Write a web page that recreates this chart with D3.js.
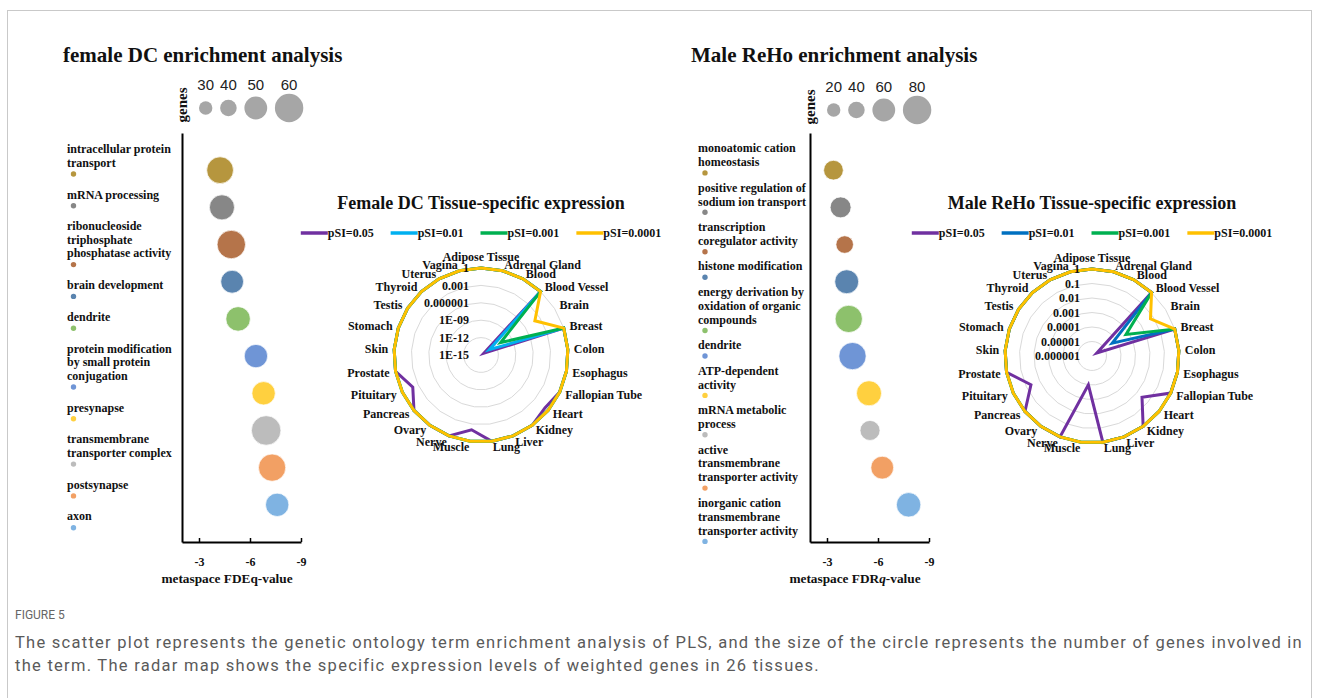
<!DOCTYPE html>
<html>
<head>
<meta charset="utf-8">
<script src="https://cdn.jsdelivr.net/npm/d3@7"></script>
<style>
  body { margin: 0; background: #fff; }
  svg { display: block; }
  .serif { font-family: "Liberation Serif", "Times New Roman", serif; font-weight: bold; fill: #111; }
  .sans { font-family: "Liberation Sans", Arial, sans-serif; fill: #222; }
</style>
</head>
<body>
<div id="chart"></div>
<script>
/* ---------- data ---------- */
var femaleTerms = [
  ["intracellular protein", "transport"],
  ["mRNA processing"],
  ["ribonucleoside", "triphosphate", "phosphatase activity"],
  ["brain development"],
  ["dendrite"],
  ["protein modification", "by small protein", "conjugation"],
  ["presynapse"],
  ["transmembrane", "transporter complex"],
  ["postsynapse"],
  ["axon"]
];
var femaleFdr = [-4.24, -4.35, -4.9, -4.95, -5.3, -6.35, -6.8, -6.95, -7.3, -7.6];
var femaleGenes = [57, 54, 60, 50, 53, 51, 51, 62, 58, 51];
var femaleLegendGenes = [30, 40, 50, 60];

var maleTerms = [
  ["monoatomic cation", "homeostasis"],
  ["positive regulation of", "sodium ion transport"],
  ["transcription", "coregulator activity"],
  ["histone modification"],
  ["energy derivation by", "oxidation of organic", "compounds"],
  ["dendrite"],
  ["ATP-dependent", "activity"],
  ["mRNA metabolic", "process"],
  ["active", "transmembrane", "transporter activity"],
  ["inorganic cation", "transmembrane", "transporter activity"]
];
var maleFdr = [-3.38, -3.8, -4.04, -4.16, -4.28, -4.5, -5.47, -5.53, -6.25, -7.8];
var maleGenes = [50, 54, 43, 64, 76, 76, 68, 51, 60, 66];
var maleLegendGenes = [20, 40, 60, 80];

var fdrTicks = [-3, -6, -9];

var tissues = ["Adipose Tissue", "Adrenal Gland", "Blood", "Blood Vessel", "Brain", "Breast",
  "Colon", "Esophagus", "Fallopian Tube", "Heart", "Kidney", "Liver", "Lung", "Muscle",
  "Nerve", "Ovary", "Pancreas", "Pituitary", "Prostate", "Skin", "Stomach", "Testis",
  "Thyroid", "Uterus", "Vagina"];

var pSILabels = ["pSI=0.05", "pSI=0.01", "pSI=0.001", "pSI=0.0001"];

var femaleRings = [1e-15, 1e-12, 1e-9, 1e-6, 1e-3, 1];
var femaleRingLabels = ["1E-15", "1E-12", "1E-09", "0.000001", "0.001", "1"];
var femaleP05   = [1, 1, 1, 1, 4e-15, 1, 1, 1, 1, 0.2, 1, 1, 1, 0.01, 1, 1, 1, 0.01, 1, 1, 1, 1, 1, 1, 1];
var femaleP01   = [1, 1, 1, 1, 5e-14, 1, 1, 1, 1, 1, 1, 1, 1, 1, 1, 1, 1, 1, 1, 1, 1, 1, 1, 1, 1];
var femaleP001  = [1, 1, 1, 1, 1e-11, 1, 1, 1, 1, 1, 1, 1, 1, 1, 1, 1, 1, 1, 1, 1, 1, 1, 1, 1, 1];
var femaleP0001 = [1, 1, 1, 1, 1e-4, 1, 1, 1, 1, 1, 1, 1, 1, 1, 1, 1, 1, 1, 1, 1, 1, 1, 1, 1, 1];

var maleRings = [1e-6, 1e-5, 1e-4, 1e-3, 1e-2, 1e-1, 1];
var maleRingLabels = ["0.000001", "0.00001", "0.0001", "0.001", "0.01", "0.1", "1"];
var maleP05   = [1, 1, 1, 1, 2.5e-6, 1, 1, 1, 1, 0.03, 1, 1, 1, 1e-4, 1, 1, 1, 0.045, 1, 1, 1, 1, 1, 1, 1];
var maleP01   = [1, 1, 1, 1, 4.5e-5, 1, 1, 1, 1, 1, 1, 1, 1, 1, 1, 1, 1, 1, 1, 1, 1, 1, 1, 1, 1];
var maleP001  = [1, 1, 1, 1, 6e-4, 1, 1, 1, 1, 1, 1, 1, 1, 1, 1, 1, 1, 1, 1, 1, 1, 1, 1, 1, 1];
var maleP0001 = [1, 1, 1, 1, 0.06, 1, 1, 1, 1, 1, 1, 1, 1, 1, 1, 1, 1, 1, 1, 1, 1, 1, 1, 1, 1];

var captionHead = "FIGURE 5";
var captionLines = [
  "The scatter plot represents the genetic ontology term enrichment analysis of PLS, and the size of the circle represents the number of genes involved in",
  "the term. The radar map shows the specific expression levels of weighted genes in 26 tissues."
];

/* ---------- styles ---------- */
var bubbleColors = ["#B6963E", "#878787", "#B5744A", "#5A84AF", "#8DC16C", "#6F95D6", "#FFD03F", "#BCBCBC", "#F2A064", "#7FB3E2"];
var bubbleRadii = [6.7, 8.3, 11.4, 14.2];
var femaleLineColors = ["#7030A0", "#00B0F0", "#00B050", "#FFC000"];
var maleLineColors = ["#7030A0", "#0070C0", "#00B050", "#FFC000"];

var width = 1319, height = 698;

var svg = d3.select("#chart").append("svg")
  .attr("width", width)
  .attr("height", height);

svg.append("rect").attr("width", width).attr("height", height).attr("fill", "#fff");
svg.append("rect")
  .attr("x", 7.5).attr("y", 10.5)
  .attr("width", 1304).attr("height", 730)
  .attr("fill", "none").attr("stroke", "#c9c9c9");

/* ---------- scatter panel ---------- */
function drawScatter(o) {
  var g = svg.append("g");

  g.append("text").attr("class", "serif")
    .attr("x", o.titleX).attr("y", 62)
    .style("font-size", "21px")
    .text(o.title);

  var x = d3.scaleLinear().domain([-2, -9]).range([o.axisX, o.axisX + 119]);
  var y = d3.scalePoint().domain(d3.range(o.terms.length)).range([133, 542]).padding(1);
  var r = d3.scaleLinear().domain(o.legendGenes).range(bubbleRadii);

  // y axis: only the line
  var ya = g.append("g")
    .attr("transform", `translate(${o.axisX},0)`)
    .call(d3.axisLeft(y).tickSize(0).tickFormat(""));
  ya.selectAll(".tick").remove();
  ya.select(".domain").attr("stroke", "#000").attr("stroke-width", 2);

  // x axis
  var xa = g.append("g")
    .attr("transform", "translate(0,542)")
    .call(d3.axisBottom(x).tickValues(fdrTicks).tickSizeInner(-4).tickSizeOuter(0).tickPadding(15).tickFormat((d) => String(d)));
  xa.attr("font-family", null).attr("font-size", null);
  xa.select(".domain").attr("stroke", "#000").attr("stroke-width", 2);
  xa.selectAll(".tick line").attr("stroke", "#000").attr("stroke-width", 1.5);
  xa.selectAll(".tick text").attr("class", "serif").attr("fill", "#111")
    .style("font-size", "12px");

  var at = g.append("text").attr("class", "serif")
    .attr("x", o.axisX + 45).attr("y", 583)
    .attr("text-anchor", "middle")
    .style("font-size", "13.3px");
  at.append("tspan").text(o.axisTitle[0]);
  at.append("tspan").style("font-style", o.italicQ ? "italic" : "normal").text("q");
  at.append("tspan").text("-value");

  // "genes" label
  g.append("text").attr("class", "serif")
    .attr("transform", `translate(${o.axisX + 5},${o.genesY}) rotate(-90)`)
    .attr("text-anchor", "middle")
    .style("font-size", "15px")
    .text("genes");

  // size legend
  var lx = o.axisX + 17;
  var legendPos = o.legendGenes.map(function (v) {
    var rr = r(v);
    var cx = lx + rr;
    lx = cx + rr + 7.7;
    return cx;
  });
  g.selectAll(".lg")
    .data(o.legendGenes)
    .enter()
    .append("circle")
    .attr("cx", (d, i) => legendPos[i])
    .attr("cy", o.legendY)
    .attr("r", (d) => r(d))
    .attr("fill", "#A6A6A6");
  g.selectAll(".lgt")
    .data(o.legendGenes)
    .enter()
    .append("text")
    .attr("class", "sans")
    .attr("x", (d, i) => legendPos[i])
    .attr("y", o.legendY - 18)
    .attr("text-anchor", "middle")
    .style("font-size", "15px")
    .text((d) => d);

  // bubbles
  g.selectAll(".bubble")
    .data(o.fdr)
    .enter()
    .append("circle")
    .attr("cx", (d) => x(d))
    .attr("cy", (d, i) => y(i))
    .attr("r", (d, i) => r(o.genes[i]))
    .attr("fill", (d, i) => bubbleColors[i])
    .attr("stroke", "#fff")
    .attr("stroke-opacity", 0.7)
    .attr("stroke-width", 1);

  // term labels with dots
  var ty = o.labelTop;
  o.terms.forEach(function (lines, i) {
    lines.forEach(function (t, j) {
      g.append("text").attr("class", "serif")
        .attr("x", o.labelX)
        .attr("y", ty + j * o.lineH)
        .attr("dy", "0.35em")
        .style("font-size", "12px")
        .text(t);
    });
    var dotY = ty + (lines.length - 1) * o.lineH + o.dotOff;
    g.append("circle")
      .attr("cx", o.labelX + o.dotDx)
      .attr("cy", dotY)
      .attr("r", 2.7)
      .attr("fill", bubbleColors[i]);
    ty = dotY + o.gap;
  });
}

/* ---------- radar panel ---------- */
function drawRadar(o) {
  var g = svg.append("g").attr("transform", `translate(${o.cx},${o.cy})`);
  var R = 87;
  var step = (2 * Math.PI) / tissues.length;
  var r = d3.scaleLog().domain([o.rings[0], 1]).range([0, R]);

  var ring = d3.lineRadial()
    .angle((d, i) => i * step)
    .radius((d) => d)
    .curve(d3.curveLinearClosed);

  g.selectAll(".ring")
    .data(o.rings.slice(1))
    .enter()
    .append("path")
    .attr("d", (v) => ring(tissues.map(() => r(v))))
    .attr("fill", "none")
    .attr("stroke", "#D9D9D9")
    .attr("stroke-width", 1);

  var line = d3.lineRadial()
    .angle((d, i) => i * step)
    .radius((d) => r(d))
    .curve(d3.curveLinearClosed);

  g.selectAll(".series")
    .data(o.series)
    .enter()
    .append("path")
    .attr("d", (d) => line(d))
    .attr("fill", "none")
    .attr("stroke", (d, i) => o.colors[i])
    .attr("stroke-width", 3)
    .attr("stroke-linejoin", "miter");

  // ring labels
  g.selectAll(".rl")
    .data(o.rings)
    .enter()
    .append("text")
    .attr("class", "serif")
    .attr("x", -12)
    .attr("y", (v) => -r(v))
    .attr("dy", "0.35em")
    .attr("text-anchor", "end")
    .style("font-size", "12px")
    .text((v, i) => o.ringLabels[i]);

  // tissue labels
  g.selectAll(".tl")
    .data(tissues)
    .enter()
    .append("text")
    .attr("class", "serif")
    .each(function (t, i) {
      var a = i * step;
      var p = d3.pointRadial(a, R + 6);
      var s = Math.sin(a);
      var anchor = Math.abs(s) < 0.05 ? "middle" : s > 0 ? "start" : "end";
      d3.select(this)
        .attr("x", p[0])
        .attr("y", anchor === "middle" ? p[1] - 5 : p[1])
        .attr("dy", "0.35em")
        .attr("text-anchor", anchor);
    })
    .style("font-size", "12px")
    .text((t) => t);

  // title
  svg.append("text").attr("class", "serif")
    .attr("x", o.cx).attr("y", 209)
    .attr("text-anchor", "middle")
    .style("font-size", "18px")
    .text(o.title);

  // legend
  var lg = svg.append("g");
  var items = lg.selectAll(".li").data(pSILabels).enter().append("g");
  items.append("line")
    .attr("x1", 0).attr("x2", 27).attr("y1", 0).attr("y2", 0)
    .attr("stroke", (d, i) => o.colors[i])
    .attr("stroke-width", 3.5);
  items.append("text").attr("class", "serif")
    .attr("x", 27).attr("y", 0).attr("dy", "0.35em")
    .style("font-size", "12px")
    .text((d) => d);
  var xx = 0;
  items.each(function () {
    var w = 27 + d3.select(this).select("text").node().getComputedTextLength();
    d3.select(this).attr("transform", `translate(${xx},0)`);
    xx += w + 17;
  });
  var total = xx - 17;
  lg.attr("transform", `translate(${o.cx - total / 2},233)`);
}

drawScatter({
  title: "female DC enrichment analysis", titleX: 63,
  terms: femaleTerms, fdr: femaleFdr, genes: femaleGenes, legendGenes: femaleLegendGenes,
  axisX: 182, axisTitle: ["metaspace FDE"], italicQ: false,
  genesY: 105, legendY: 108,
  labelX: 67, dotDx: 6.5, labelTop: 149, lineH: 13.5, dotOff: 11.5, gap: 20.3
});

drawScatter({
  title: "Male ReHo enrichment analysis", titleX: 691,
  terms: maleTerms, fdr: maleFdr, genes: maleGenes, legendGenes: maleLegendGenes,
  axisX: 810, axisTitle: ["metaspace FDR"], italicQ: true,
  genesY: 107, legendY: 110,
  labelX: 698, dotDx: 7, labelTop: 148, lineH: 13.9, dotOff: 11, gap: 14.5
});

drawRadar({
  cx: 481, cy: 355, title: "Female DC Tissue-specific expression",
  rings: femaleRings, ringLabels: femaleRingLabels,
  series: [femaleP05, femaleP01, femaleP001, femaleP0001], colors: femaleLineColors
});

drawRadar({
  cx: 1092, cy: 356, title: "Male ReHo Tissue-specific expression",
  rings: maleRings, ringLabels: maleRingLabels,
  series: [maleP05, maleP01, maleP001, maleP0001], colors: maleLineColors
});

/* ---------- caption ---------- */
var capFont = "Roboto, 'Open Sans', sans-serif";
svg.append("text")
  .attr("x", 15).attr("y", 619)
  .style("font-family", capFont)
  .style("font-size", "12px")
  .attr("fill", "#666")
  .text(captionHead);

var capTexts = captionLines.map(function (t, i) {
  return svg.append("text")
    .attr("x", 15).attr("y", 648 + i * 22.5)
    .style("font-family", capFont)
    .style("font-size", "16.5px")
    .attr("fill", "#5a5a5a")
    .text(t);
});
// spread first line to the caption width, reuse the same letter spacing on the second
var w0 = capTexts[0].node().getComputedTextLength();
var ls = (1288 - w0) / captionLines[0].length;
capTexts.forEach((t) => t.style("letter-spacing", ls + "px"));
</script>
</body>
</html>
